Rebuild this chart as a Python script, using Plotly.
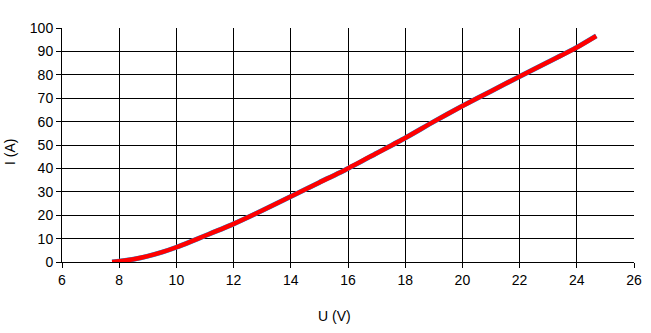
import plotly.graph_objects as go

# Data
U_values = [7.75, 8.0, 8.5, 9.0, 9.5, 10.0, 10.5, 11.0, 12.0, 13.0, 14.0, 15.0, 16.0,
            17.0, 18.0, 19.0, 20.0, 21.0, 22.0, 23.0, 24.0, 24.68]
I_values = [0.0, 0.3, 1.2, 2.5, 4.2, 6.3, 8.7, 11.2, 16.3, 22.0, 28.0, 34.0, 40.0,
            46.5, 53.0, 60.0, 66.7, 73.0, 79.3, 85.5, 91.7, 96.6]

x_ticks = [6, 8, 10, 12, 14, 16, 18, 20, 22, 24, 26]
y_ticks = [0, 10, 20, 30, 40, 50, 60, 70, 80, 90, 100]

font = dict(family="Arial, Liberation Sans, sans-serif", size=14, color="black")

W, H = 651, 333
L, R, T, B = 62, 17, 28, 71

fig = go.Figure()
fig.add_trace(go.Scatter(x=U_values, y=I_values, mode="lines",
                         line=dict(color="#00aaff", width=5, shape="spline", smoothing=0.6),
                         hoverinfo="skip"))
fig.add_trace(go.Scatter(x=U_values, y=I_values, mode="lines",
                         line=dict(color="#ff0000", width=4.5, shape="spline", smoothing=0.6)))

fig.update_layout(
    width=W, height=H,
    margin=dict(l=L, r=R, t=T, b=B, pad=0),
    paper_bgcolor="white", plot_bgcolor="white",
    showlegend=False,
    font=font,
    xaxis=dict(range=[6, 26], tickvals=x_ticks, ticktext=[str(v) for v in x_ticks],
               showgrid=True, gridcolor="black", gridwidth=1,
               showline=True, linecolor="black", linewidth=1,
               ticks="outside", ticklen=5, tickcolor="black", zeroline=False,
               tickfont=font, automargin=False),
    yaxis=dict(range=[0, 100], tickvals=y_ticks, ticktext=[str(v) for v in y_ticks],
               showgrid=True, gridcolor="black", gridwidth=1,
               showline=True, linecolor="black", linewidth=1,
               ticks="outside", ticklen=5, tickcolor="black", zeroline=False,
               tickfont=font, automargin=False),
)

pw = W - L - R
ph = H - T - B


def to_paper(px, py):
    return (px - L) / pw, 1 - (py - T) / ph


ux, uy = to_paper(334, 316)
ix, iy = to_paper(10, 152)
fig.add_annotation(text="U (V)", x=ux, y=uy, xref="paper", yref="paper", showarrow=False,
                   font=font, xanchor="center", yanchor="middle")
fig.add_annotation(text="I (A)", x=ix, y=iy, xref="paper", yref="paper", showarrow=False,
                   font=font, textangle=-90, xanchor="center", yanchor="middle")

fig.write_html("out.html",
               config={"displayModeBar": False},
               post_script="document.body.style.margin='0';document.body.style.overflow='hidden';")
